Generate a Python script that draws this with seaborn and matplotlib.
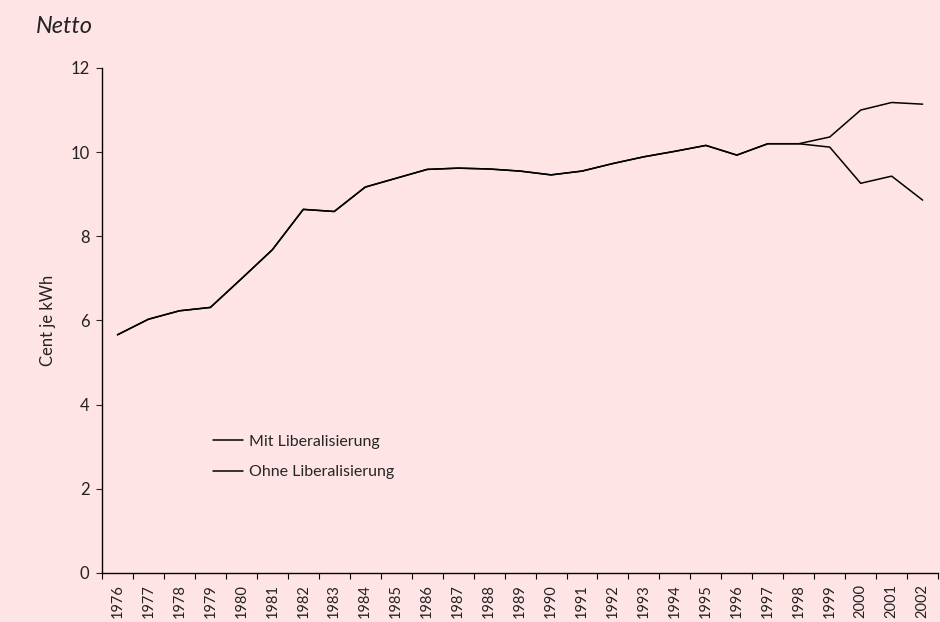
import matplotlib
matplotlib.use("Agg")
import matplotlib.pyplot as plt
import pandas as pd
import seaborn as sns
from matplotlib.ticker import FixedLocator

years = list(range(1976, 2003))
mit_lib = [5.66, 6.03, 6.23, 6.31, 6.99, 7.68, 8.64, 8.59, 9.17, 9.38,
           9.59, 9.62, 9.60, 9.55, 9.46, 9.55, 9.73, 9.89, 10.02, 10.16,
           9.93, 10.20, 10.20, 10.12, 9.26, 9.43, 8.86]
ohne_lib = [5.66, 6.03, 6.23, 6.31, 6.99, 7.68, 8.64, 8.59, 9.17, 9.38,
            9.59, 9.62, 9.60, 9.55, 9.46, 9.55, 9.73, 9.89, 10.02, 10.16,
            9.93, 10.20, 10.20, 10.36, 11.00, 11.18, 11.14]
series_names = ["Mit Liberalisierung", "Ohne Liberalisierung"]

bg = "#FFE4E6"

df = pd.DataFrame({
    "Jahr": years * 2,
    "Wert": mit_lib + ohne_lib,
    "Reihe": [series_names[0]] * len(years) + [series_names[1]] * len(years),
})

sns.set_style("ticks")
plt.rcParams["font.family"] = ["Lato", "DejaVu Sans"]

fig = plt.figure(figsize=(9.4, 6.22), dpi=100, facecolor=bg)
ax = fig.add_axes([0.1085, 0.0788, 0.8895, 0.8119], facecolor=bg)

sns.lineplot(data=df, x="Jahr", y="Wert", hue="Reihe", hue_order=series_names,
             palette=["black", "black"], linewidth=1.1, ax=ax)

ax.set_xlim(years[0] - 0.5, years[-1] + 0.5)
ax.set_ylim(0, 12)
ax.set_yticks([0, 2, 4, 6, 8, 10, 12])
ax.set_xticks(years)
ax.set_xticklabels([str(y) for y in years], rotation=90)
ax.xaxis.set_minor_locator(FixedLocator([y - 0.5 for y in years] + [years[-1] + 0.5]))
ax.tick_params(axis="x", which="major", length=0, pad=8, labelsize=10.5, labelcolor="#222222")
ax.tick_params(axis="x", which="minor", length=4, width=0.8, color="black")
ax.tick_params(axis="y", length=4, width=0.8, labelsize=12, pad=5, labelcolor="#222222")

for side in ["top", "right"]:
    ax.spines[side].set_visible(False)
for side in ["left", "bottom"]:
    ax.spines[side].set_linewidth(1.0)
    ax.spines[side].set_color("black")

ax.set_xlabel("")
ax.set_ylabel("Cent je kWh", fontsize=12, color="#222222", labelpad=10)

ax.legend(loc="upper left", bbox_to_anchor=(0.115, 0.303), frameon=False,
          fontsize=11.5, handlelength=1.9, handletextpad=0.4, labelspacing=1.05)

fig.text(0.038, 0.958, "Netto", fontsize=17, style="italic", color="#222222",
         va="center", ha="left")

fig.savefig("out.png", dpi=100, facecolor=bg)
